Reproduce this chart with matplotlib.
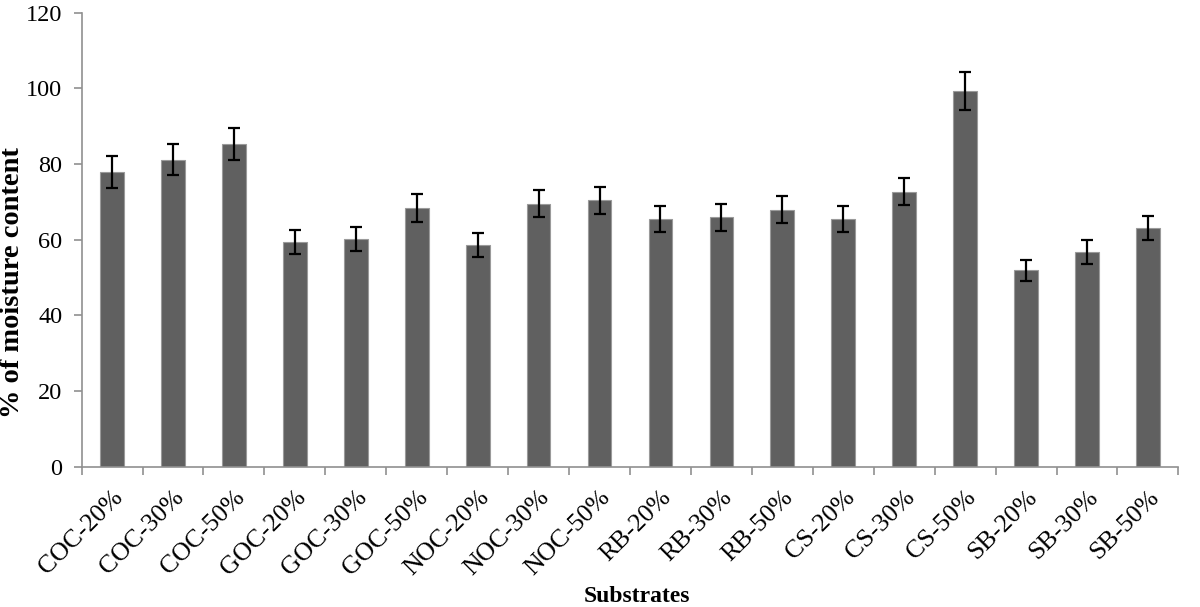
import numpy as np
import matplotlib.pyplot as plt
import matplotlib.transforms as mtransforms
from matplotlib.ticker import FixedLocator, NullFormatter

# substrate labels and moisture content values
substrates = ["COC-20%", "COC-30%", "COC-50%", "GOC-20%", "GOC-30%", "GOC-50%",
              "NOC-20%", "NOC-30%", "NOC-50%", "RB-20%", "RB-30%", "RB-50%",
              "CS-20%", "CS-30%", "CS-50%", "SB-20%", "SB-30%", "SB-50%"]
moisture = [78.0, 81.2, 85.3, 59.5, 60.3, 68.4,
            58.7, 69.5, 70.4, 65.5, 65.9, 67.9,
            65.5, 72.7, 99.3, 51.9, 56.8, 63.1]
errors = [4.2, 4.0, 4.3, 3.2, 3.2, 3.6,
          3.2, 3.6, 3.6, 3.5, 3.5, 3.6,
          3.5, 3.6, 5.1, 2.7, 3.1, 3.1]

serif = "Liberation Serif"

fig = plt.figure(figsize=(12, 6.07), dpi=100)
ax = fig.add_axes([0.068, 0.231, 0.914, 0.748])

x = np.arange(len(substrates))
ax.bar(x, moisture, width=0.39, color="#606060", edgecolor="#9a9a9a", linewidth=0.8,
       yerr=errors, capsize=4.5, error_kw=dict(ecolor="black", elinewidth=1.6, capthick=1.6))

ax.set_xlim(-0.5, len(substrates) - 0.5)
ax.set_ylim(0, 120)
ax.set_yticks(range(0, 121, 20))
ax.set_yticklabels([str(v) for v in range(0, 121, 20)], fontsize=17.5, family=serif)

# category labels, ticks sit on the category boundaries
ax.set_xticks(x)
ax.set_xticklabels(substrates, rotation=45, ha="right", rotation_mode="anchor",
                   fontsize=18.5, family=serif)
shift = mtransforms.ScaledTranslation(8 / 100, 0, fig.dpi_scale_trans)
for lbl in ax.get_xticklabels():
    lbl.set_transform(lbl.get_transform() + shift)
ax.tick_params(axis="x", which="major", length=0, pad=14)
ax.xaxis.set_minor_locator(FixedLocator(np.arange(-0.5, len(substrates), 1.0)))
ax.xaxis.set_minor_formatter(NullFormatter())
ax.tick_params(axis="x", which="minor", length=6, color="#909090", width=1.2)
ax.tick_params(axis="y", length=6, color="#909090", width=1.2, pad=8)

for side in ["top", "right"]:
    ax.spines[side].set_visible(False)
for side in ["left", "bottom"]:
    ax.spines[side].set_color("#909090")
    ax.spines[side].set_linewidth(1.2)

ax.set_ylabel("% of moisture content", fontsize=20.5, fontweight="bold", family=serif)
ax.yaxis.set_label_coords(-0.052, 0.405)
ax.set_xlabel("Substrates", fontsize=17, fontweight="bold", family=serif)
ax.xaxis.set_label_coords(0.506, -0.262)

fig.savefig("out.png", dpi=100)
